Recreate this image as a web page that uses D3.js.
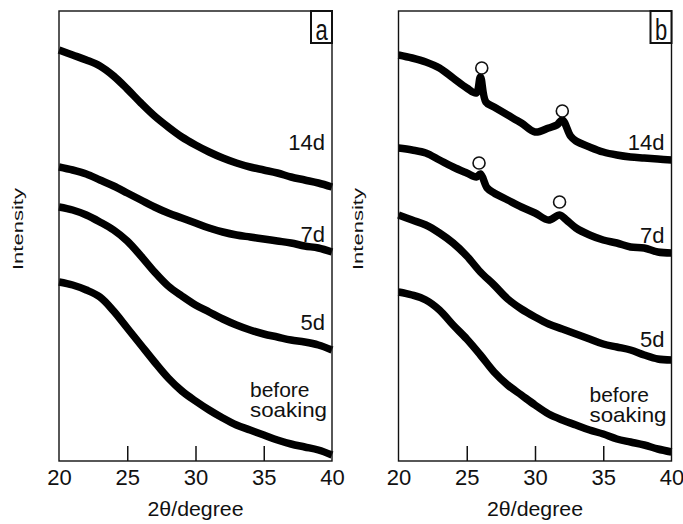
<!DOCTYPE html>
<html>
<head>
<meta charset="utf-8">
<script src="https://cdn.jsdelivr.net/npm/d3@7"></script>
<style>
  body { margin: 0; background: #fff; }
  text { font-family: "Liberation Sans", Arial, Helvetica, sans-serif; fill: #111; }
</style>
</head>
<body>
<div id="my_dataviz"></div>
<script>
// x ticks (2theta, degree)
var xTicks = [20, 25, 30, 35, 40];
var xGrid = [20, 21, 22, 23, 24, 25, 26, 27, 28, 29, 30, 31, 32, 33, 34, 35, 36, 37, 38, 39, 40];

// panel a: intensity (a.u.)
var a14d = [411, 406, 401, 395, 385, 372, 358, 345, 334, 324, 316, 309, 303, 298, 294, 291, 288, 284, 281, 278, 274];
var a7d = [294, 291, 287, 281, 275, 268, 261, 254, 248, 243, 238, 233, 229, 226, 224, 222, 220, 218, 215, 213, 209];
var a5d = [254, 251, 246, 239, 231, 220, 205, 189, 175, 165, 156, 149, 142, 136, 131, 127, 124, 121, 119, 116, 111];
var aBefore = [179, 176, 171, 164, 150, 133, 116, 99, 83, 70, 60, 51, 43, 36, 31, 26, 21, 17, 14, 11, 6];

// panel b: the soaked samples show two small peaks
var b14dX = [20, 21, 22, 23, 24, 25, 25.7, 26, 26.4, 27, 28, 29, 30, 31, 31.6, 32, 32.6, 33, 34, 35, 36, 37, 38, 39, 40];
var b14d = [406, 403, 399, 393, 383, 373, 368, 384, 359, 354, 346, 338, 329, 333, 336, 341, 325, 320, 314, 309, 306, 304, 303, 302, 301];
var b7dX = [20, 21, 22, 23, 24, 25, 25.7, 26, 26.5, 27, 28, 29, 30, 31, 31.8, 32.3, 33, 34, 35, 36, 37, 38, 39, 40];
var b7d = [313, 311, 308, 301, 294, 288, 284, 287, 273, 268, 261, 254, 248, 241, 246, 241, 233, 226, 221, 218, 214, 213, 209, 208];
var b5d = [246, 241, 236, 228, 218, 205, 189, 176, 162, 152, 144, 137, 132, 127, 122, 117, 114, 111, 106, 102, 101];
var bBefore = [169, 166, 161, 151, 136, 122, 106, 89, 76, 66, 56, 47, 41, 36, 31, 27, 22, 19, 16, 12, 9];

// peak markers (open circles) in panel b
var peakX = [26.1, 32.0, 25.9, 31.8];
var peakY = [393, 350, 298, 259];

var labels = ["14d", "7d", "5d"];

// set the dimensions of the graph
var W = 683, H = 524;
var top0 = 11, height = 450, width = 273;
var lefts = [59, 398.5];

var svg = d3.select("#my_dataviz")
  .append("svg")
    .attr("width", W)
    .attr("height", H);

var x = d3.scaleLinear().domain([20, 40]).range([0, width]);
var y = d3.scaleLinear().domain([0, 450]).range([height, 0]);

var line = d3.line()
  .x(function(d) { return x(d[0]); })
  .y(function(d) { return y(d[1]); })
  .curve(d3.curveCatmullRom.alpha(0.5));

function zip(xs, ys) { return xs.map(function(v, i) { return [v, ys[i]]; }); }

var panels = [
  { name: "a", series: [zip(xGrid, a14d), zip(xGrid, a7d), zip(xGrid, a5d), zip(xGrid, aBefore)],
    labelY: [150, 242, 330], beforeY: 397 },
  { name: "b", series: [zip(b14dX, b14d), zip(b7dX, b7d), zip(xGrid, b5d), zip(xGrid, bBefore)],
    labelY: [150, 243, 347], beforeY: 402 }
];

panels.forEach(function(p, k) {
  var g = svg.append("g")
    .attr("transform", "translate(" + lefts[k] + "," + top0 + ")");

  // the curves
  p.series.forEach(function(s) {
    g.append("path")
      .datum(s)
      .attr("fill", "none")
      .attr("stroke", "#000")
      .attr("stroke-width", 7.5)
      .attr("stroke-linejoin", "round")
      .attr("d", line);
  });

  // frame
  g.append("rect")
    .attr("width", width)
    .attr("height", height)
    .attr("fill", "none")
    .attr("stroke", "#111")
    .attr("stroke-width", 1.4);

  // X axis, ticks pointing inwards
  var xAxis = g.append("g")
    .attr("transform", "translate(0," + height + ")")
    .call(d3.axisBottom(x).tickValues(xTicks).tickSize(-15).tickFormat(d3.format("d")));
  xAxis.select(".domain").remove();
  xAxis.selectAll("line").attr("stroke", "#111").attr("stroke-width", 1.5)
    .filter(function(d) { return d == 20 || d == 40; }).remove();
  xAxis.selectAll("text")
    .style("font-size", "22px")
    .attr("fill", "#111")
    .attr("dy", "0")
    .attr("y", 24);

  // X axis label
  g.append("text")
    .attr("text-anchor", "middle")
    .attr("x", width / 2)
    .attr("y", 505)
    .attr("textLength", 96)
    .attr("lengthAdjust", "spacingAndGlyphs")
    .style("font-size", "21px")
    .text("2θ/degree");

  // Y axis label
  g.append("text")
    .attr("text-anchor", "middle")
    .attr("transform", "translate(-36," + (229 - top0) + ") rotate(-90)")
    .attr("textLength", 82)
    .attr("lengthAdjust", "spacingAndGlyphs")
    .style("font-size", "14px")
    .text("Intensity");

  // curve labels
  labels.forEach(function(t, i) {
    g.append("text")
      .attr("text-anchor", "end")
      .attr("x", width - 7)
      .attr("y", p.labelY[i] - top0)
      .style("font-size", "22px")
      .text(t);
  });
  var before = g.append("text")
    .attr("y", p.beforeY - top0)
    .style("font-size", "21px");
  before.append("tspan").attr("x", width - 82).text("before");
  before.append("tspan").attr("x", width - 82).attr("dy", 20)
    .attr("textLength", 77).attr("lengthAdjust", "spacingAndGlyphs").text("soaking");

  // panel letter in a box
  g.append("rect")
    .attr("x", width - 21)
    .attr("y", 0)
    .attr("width", 21)
    .attr("height", 32)
    .attr("fill", "#fff")
    .attr("stroke", "#111")
    .attr("stroke-width", 2);
  g.append("text")
    .attr("text-anchor", "middle")
    .attr("transform", "translate(" + (width - 10.5) + ",29) scale(1,1.35)")
    .style("font-size", "22px")
    .text(p.name);

  // peak markers
  if (p.name == "b") {
    g.selectAll("circle")
      .data(peakX)
      .enter()
      .append("circle")
        .attr("cx", function(d) { return x(d); })
        .attr("cy", function(d, i) { return y(peakY[i]); })
        .attr("r", 6)
        .attr("fill", "#fff")
        .attr("stroke", "#111")
        .attr("stroke-width", 1.6);
  }
});
</script>
</body>
</html>
